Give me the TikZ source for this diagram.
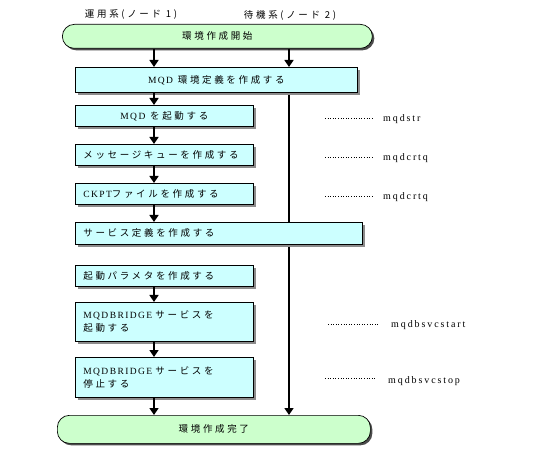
\documentclass[tikz,border=0pt]{standalone}
\usepackage{fontspec}
\setmainfont{Noto Sans CJK JP}[LetterSpace=28]
\newfontfamily\lat{Liberation Serif}[LetterSpace=15]
\newfontfamily\cmdf{Liberation Serif}[LetterSpace=19]
\usetikzlibrary{arrows.meta,shadows,backgrounds}
\definecolor{boxcyan}{HTML}{CCFFFF}
\definecolor{termgreen}{HTML}{CCFFCC}
\begin{document}
\begin{tikzpicture}[x=1pt,y=-1pt,font=\fontsize{9.5}{13}\selectfont,
  proc/.style={draw=black, line width=0.7pt, fill=boxcyan, anchor=north west, inner sep=0pt,
    drop shadow={shadow xshift=2.5pt, shadow yshift=-2.5pt, fill=black!45, opacity=1}},
  term/.style={draw=black, line width=0.7pt, fill=termgreen, rounded corners=12pt, anchor=north west, inner sep=0pt,
    drop shadow={shadow xshift=2pt, shadow yshift=-2pt, fill=black!70, opacity=1}},
  arr/.style={line width=1.6pt, -{Triangle[width=9pt,length=7pt]}},
  dotl/.style={line width=0.6pt, dash pattern=on 1pt off 1.6pt},
  cmd/.style={anchor=west, inner sep=0pt, font=\cmdf\fontsize{10}{12}\selectfont},
  hdr/.style={inner sep=0pt}]
\useasboundingbox (0,0) rectangle (538,462);
\coordinate (lc) at (154,0);
\coordinate (rc) at (289,0);

\node[hdr] (h1) at (131,15) {運用系(ノード 1)};
\node[hdr] (h2) at (290,15) {待機系(ノード 2)};

\node[term, minimum width=310pt, minimum height=24pt] (start) at (62,24) {環境作成開始};
\node[proc, minimum width=282pt, minimum height=25pt] (b1) at (75,67) {{\lat MQD} 環境定義を作成する};
\node[proc, minimum width=178pt, minimum height=21pt] (b2) at (75,105) {{\lat MQD} を起動する};
\node[proc, minimum width=178pt, minimum height=21pt, text width=162pt, align=left] (b3) at (75,144) {メッセージキューを作成する};
\node[proc, minimum width=178pt, minimum height=21pt, text width=162pt, align=left] (b4) at (75,183) {{\lat CKPT}ファイルを作成する};
\node[proc, minimum width=287pt, minimum height=22pt, text width=271pt, align=left] (b5) at (75,222) {サービス定義を作成する};
\node[proc, minimum width=178pt, minimum height=21pt, text width=162pt, align=left] (b6) at (75,265) {起動パラメタを作成する};
\node[proc, minimum width=178pt, minimum height=39pt, text width=162pt, align=left] (b7) at (75,302) {{\lat MQDBRIDGE} サービスを\\起動する};
\node[proc, minimum width=178pt, minimum height=40pt, text width=162pt, align=left] (b8) at (75,357) {{\lat MQDBRIDGE} サービスを\\停止する};
\node[term, minimum width=313pt, minimum height=28pt] (end) at (57,415) {環境作成完了};

\draw[arr] (start.south -| lc) -- (b1.north -| lc);
\draw[arr] (start.south -| rc) -- (b1.north -| rc);
\draw[arr] (b1.south -| lc) -- (b2.north -| lc);
\draw[arr] (b2.south -| lc) -- (b3.north -| lc);
\draw[arr] (b3.south -| lc) -- (b4.north -| lc);
\draw[arr] (b4.south -| lc) -- (b5.north -| lc);
\draw[arr] (b6.south -| lc) -- (b7.north -| lc);
\draw[arr] (b7.south -| lc) -- (b8.north -| lc);
\draw[arr] (b8.south -| lc) -- (end.north -| lc);
\begin{pgfonlayer}{background}
\draw[arr] (b1.south -| rc) -- (end.north -| rc);
\end{pgfonlayer}

\coordinate (d1a) at (325,118); \coordinate (d1b) at (372,118);
\coordinate (d2a) at (325,157); \coordinate (d2b) at (372,157);
\coordinate (d3a) at (325,196); \coordinate (d3b) at (372,196);
\coordinate (d4a) at (328,324); \coordinate (d4b) at (378,324);
\coordinate (d5a) at (325,378); \coordinate (d5b) at (375,378);
\draw[dotl] (d1a) -- (d1b);
\draw[dotl] (d2a) -- (d2b);
\draw[dotl] (d3a) -- (d3b);
\draw[dotl] (d4a) -- (d4b);
\draw[dotl] (d5a) -- (d5b);
\node[cmd] (c1) at (383,119) {mqdstr};
\node[cmd] (c2) at (383,158) {mqdcrtq};
\node[cmd] (c3) at (383,197) {mqdcrtq};
\node[cmd] (c4) at (391,325) {mqdbsvcstart};
\node[cmd] (c5) at (388,381) {mqdbsvcstop};
\end{tikzpicture}
\end{document}
